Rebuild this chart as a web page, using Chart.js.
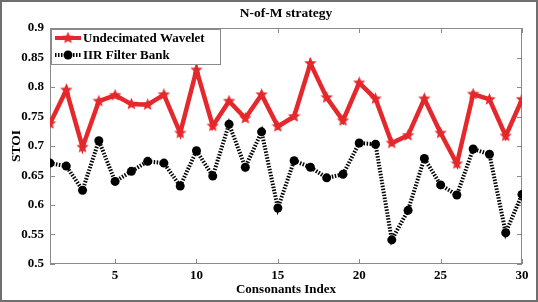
<!DOCTYPE html>
<html><head><meta charset="utf-8">
<script src="https://cdn.jsdelivr.net/npm/chart.js@4/dist/chart.umd.min.js"></script>
<style>html,body{margin:0;padding:0;background:#fff}#wrap{width:538px;height:302px;position:relative}</style>
</head><body><div id="wrap"><canvas id="c" width="538" height="302"></canvas></div>
<script>
const indices = [1,2,3,4,5,6,7,8,9,10,11,12,13,14,15,16,17,18,19,20,21,22,23,24,25,26,27,28,29,30];
const undecimatedWavelet = [0.738,0.795,0.698,0.776,0.786,0.771,0.770,0.787,0.722,0.829,0.734,0.776,0.747,0.787,0.733,0.750,0.840,0.782,0.743,0.807,0.780,0.705,0.718,0.780,0.722,0.670,0.788,0.779,0.717,0.779];
const iirFilterBank = [0.671,0.666,0.625,0.709,0.640,0.657,0.674,0.671,0.632,0.692,0.649,0.737,0.664,0.724,0.595,0.675,0.664,0.646,0.652,0.705,0.703,0.541,0.591,0.679,0.634,0.617,0.695,0.686,0.553,0.618];
const xTicks = [5,10,15,20,25,30];
const yTicks = [0.5,0.55,0.6,0.65,0.7,0.75,0.8,0.85,0.9];
const seriesNames = ['Undecimated Wavelet','IIR Filter Bank'];
const chartTitle = 'N-of-M strategy';

const RED = '#e4282b';
const FONT = "'Liberation Serif','Times New Roman',serif";

function starCanvas(size, color){
  const c = document.createElement('canvas');
  c.width = size; c.height = size;
  const g = c.getContext('2d');
  const cx=size/2, cy=size/2, R=size/2, r=R*0.45;
  g.beginPath();
  for(let i=0;i<10;i++){
    const a = -Math.PI/2 + i*Math.PI/5;
    const rr = i%2===0?R:r;
    g.lineTo(cx+rr*Math.cos(a), cy+rr*Math.sin(a));
  }
  g.closePath(); g.fillStyle=color; g.fill();
  return c;
}
const star = starCanvas(13, RED);

const framePlugin = {
  id:'frame',
  beforeDatasetsDraw(chart){
    const {ctx, chartArea:a, scales:{x,y}} = chart;
    ctx.save();
    ctx.strokeStyle='#8a8a8a'; ctx.lineWidth=1;
    ctx.strokeRect(a.left+0.5, a.top+0.5, a.right-a.left-1, a.bottom-a.top-1);
    ctx.beginPath();
    xTicks.forEach(v=>{const px=Math.round(x.getPixelForValue(v))+0.5;
      ctx.moveTo(px,a.bottom); ctx.lineTo(px,a.bottom-5);
      ctx.moveTo(px,a.top); ctx.lineTo(px,a.top+5);});
    yTicks.forEach(v=>{const py=Math.round(y.getPixelForValue(v))+0.5;
      ctx.moveTo(a.left,py); ctx.lineTo(a.left+5,py);
      ctx.moveTo(a.right,py); ctx.lineTo(a.right-5,py);});
    ctx.stroke();
    ctx.restore();
  },
  afterDraw(chart){
    const {ctx, chartArea:a} = chart;
    ctx.save();
    // outer border
    ctx.strokeStyle='#6f6f6f'; ctx.lineWidth=2;
    ctx.strokeRect(1,1,chart.width-2,chart.height-2);
    // title
    ctx.fillStyle='#000';
    ctx.font = "bold 13.5px "+FONT; ctx.textBaseline='middle'; ctx.textAlign='center';
    ctx.fillText(chartTitle, (a.left+a.right)/2, 14);
    // legend
    const lx=a.left+1, ly=a.top+1, lw=170, lh=36;
    ctx.fillStyle='#fff'; ctx.fillRect(lx,ly,lw,lh);
    ctx.strokeStyle='#8a8a8a'; ctx.lineWidth=1;
    ctx.strokeRect(lx+0.5,ly+0.5,lw-1,lh-1);
    const rows=[ly+9, ly+26];
    ctx.strokeStyle=RED; ctx.lineWidth=4; ctx.setLineDash([]);
    ctx.beginPath(); ctx.moveTo(lx+4,rows[0]); ctx.lineTo(lx+30,rows[0]); ctx.stroke();
    ctx.drawImage(star, lx+17-6.5, rows[0]-6.5);
    ctx.strokeStyle='#000'; ctx.lineWidth=4; ctx.setLineDash([1.5,1.5]);
    ctx.beginPath(); ctx.moveTo(lx+4,rows[1]); ctx.lineTo(lx+30,rows[1]); ctx.stroke();
    ctx.setLineDash([]);
    ctx.fillStyle='#000'; ctx.beginPath(); ctx.arc(lx+17,rows[1],4.5,0,Math.PI*2); ctx.fill();
    ctx.font = "bold 13px "+FONT; ctx.textAlign='left';
    ctx.fillText(seriesNames[0], lx+32, rows[0]+1);
    ctx.fillText(seriesNames[1], lx+32, rows[1]+1);
    ctx.restore();
  }
};

new Chart(document.getElementById('c'), {
  type:'line',
  data:{
    labels: indices,
    datasets:[
      {label:seriesNames[0], data: indices.map((v,i)=>({x:v,y:undecimatedWavelet[i]})),
       borderColor:RED, backgroundColor:RED, borderWidth:4.5, pointStyle:star, pointRadius:6, tension:0},
      {label:seriesNames[1], data: indices.map((v,i)=>({x:v,y:iirFilterBank[i]})),
       borderColor:'#000', backgroundColor:'#000', borderWidth:4, borderDash:[1.5,1.5],
       pointStyle:'circle', pointRadius:4.5, pointBorderWidth:0, tension:0}
    ]
  },
  options:{
    responsive:false, animation:false, devicePixelRatio:1,
    layout:{padding:{right:16,left:0,top:28,bottom:0}},
    plugins:{ legend:{display:false}, tooltip:{enabled:false}, title:{display:false} },
    scales:{
      x:{type:'linear', min:1, max:30,
        afterFit(s){s.height=38;},
        afterBuildTicks(s){s.ticks = xTicks.map(v=>({value:v}));},
        grid:{display:false, drawTicks:false}, border:{display:false},
        ticks:{color:'#000', padding:4, autoSkip:false, maxRotation:0, font:{family:FONT,size:13,weight:'bold'}},
        title:{display:true, text:'Consonants Index', color:'#000', padding:{top:0,bottom:5},
          font:{family:FONT,size:13,weight:'bold'}}
      },
      y:{min:0.5, max:0.9,
        afterFit(s){s.width=50;},
        afterBuildTicks(s){s.ticks = yTicks.map(v=>({value:v}));},
        grid:{display:false, drawTicks:false}, border:{display:false},
        ticks:{color:'#000', padding:6, autoSkip:false, font:{family:FONT,size:13,weight:'bold'},
          callback:v=>String(Math.round(v*100)/100)},
        title:{display:true, text:'STOI', color:'#000', padding:{top:8,bottom:0},
          font:{family:FONT,size:13.5,weight:'bold'}}
      }
    }
  },
  plugins:[framePlugin]
});
</script></body></html>
